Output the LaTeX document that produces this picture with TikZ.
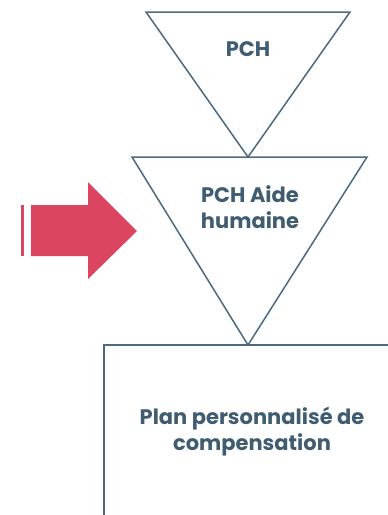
\documentclass[tikz,border=0pt]{standalone}
\usepackage{fontspec}
\setmainfont{Poppins}
\usepackage{tikz}
\usetikzlibrary{
	calc,
	positioning,
}
\definecolor{slate}{HTML}{4A6A80}
\definecolor{slatetext}{HTML}{3F5C71}
\definecolor{rose}{HTML}{DC4560}
\tikzset{shape line/.style={draw=slate,line width=1.5pt,line join=miter,}}
\tikzset{label text/.style={text=slatetext,font=\fontsize{21}{26}\selectfont\bfseries,align=center,inner sep=0pt,}}
\tikzset{push/.style={fill=rose,draw=none,}}
\tikzset{
	x=1pt,
	y=-1pt,
}

\begin{document}
\begin{tikzpicture}

\clip (0,0) rectangle (388,515);

\coordinate(t1l) at(146,12);
\coordinate(t1r) at(350,12);
\coordinate(t1b) at(248,157);

\coordinate(t2l) at(132,157);
\coordinate(t2r) at(367,157);
\coordinate(t2b) at(248,345);

\coordinate(pl) at(104,345);
\coordinate(pr) at(410,540);

\draw[shape line] (t1l) -- (t1r) -- (t1b) -- cycle;
\draw[shape line] (t2l) -- (t2r) -- (t2b) -- cycle;
\draw[shape line] (pl) rectangle (pr);

\node[label text](pch) at(248,49.5) {PCH};
\node[label text](aide) at(250,207) {PCH Aide\\humaine};
\node[label text](plan) at(252,432) {Plan personnalisé de\\compensation};

% fleche
\fill[push] (21,205) rectangle (24,256);
\fill[push] (31,205) -- (88,205) -- (88,182) -- (137,231) -- (88,279) -- (88,256) -- (31,256) -- cycle;

\end{tikzpicture}
\end{document}
